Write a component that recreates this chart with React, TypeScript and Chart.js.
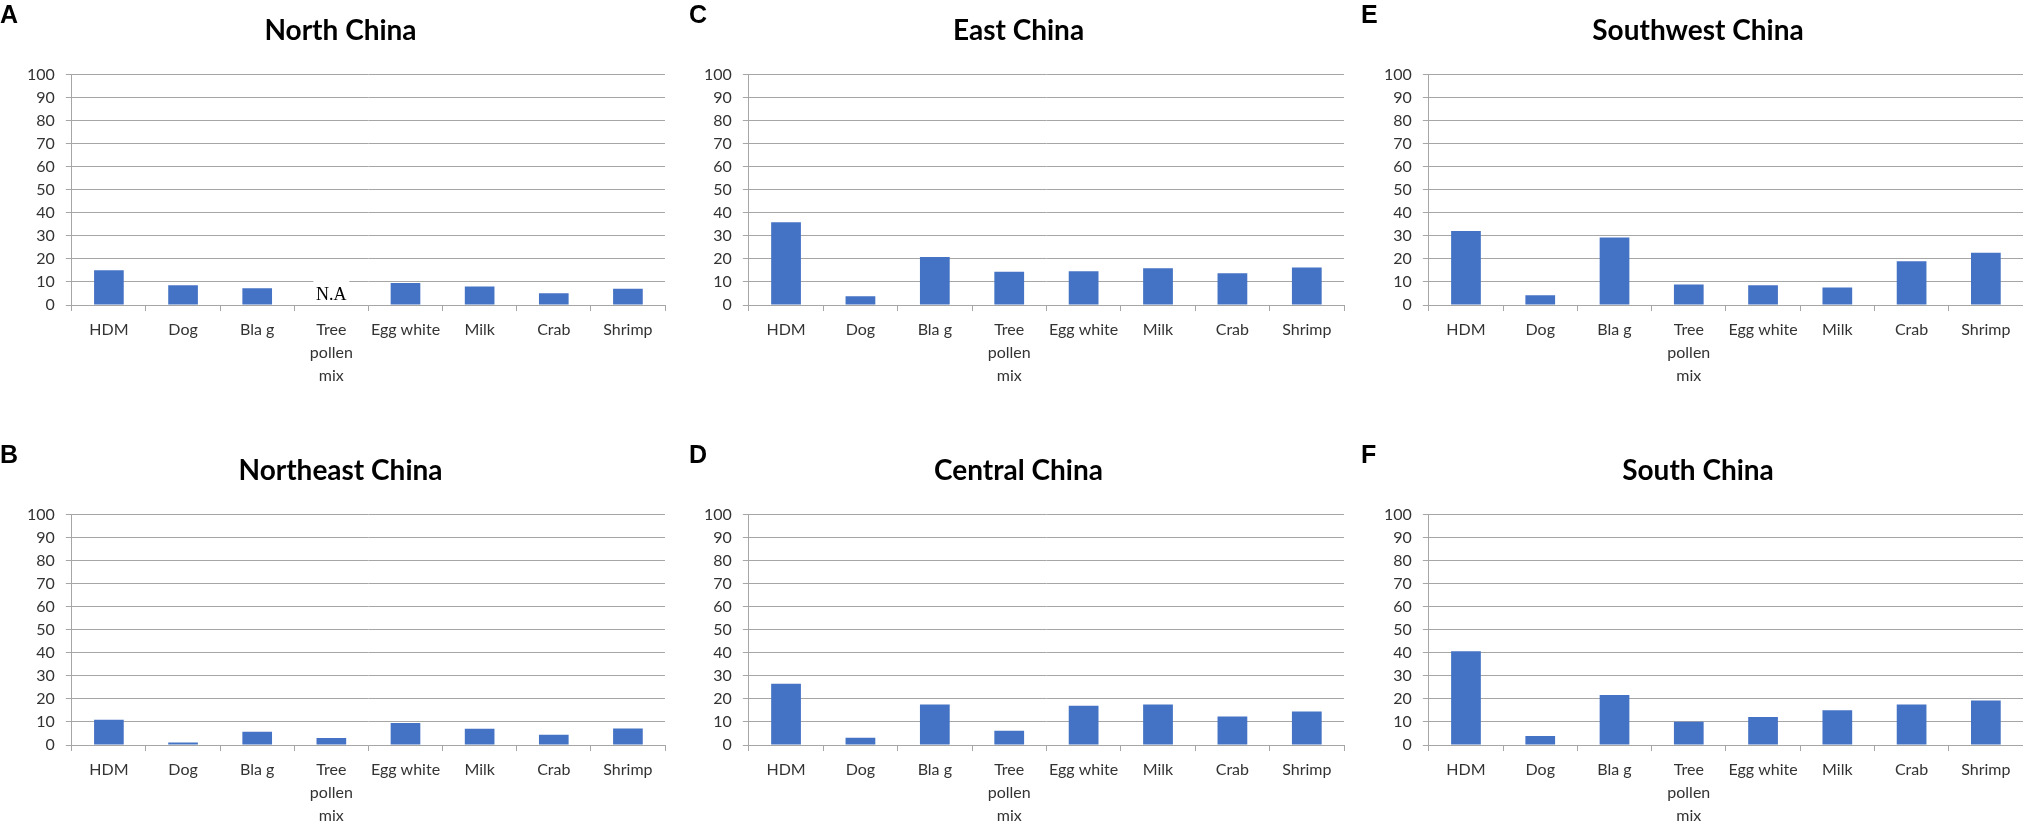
import { useEffect, useRef } from 'react'
import Chart, { type ChartConfiguration, type Plugin } from 'chart.js/auto'

// 알레르겐 카테고리 (x축)
const CATEGORIES: (string | string[])[] = ['HDM', 'Dog', 'Bla g', ['Tree', 'pollen', 'mix'], 'Egg white', 'Milk', 'Crab', 'Shrimp']

// 지역별 양성률(%) — 그림에서 읽은 값, null = N.A
const NORTH_CHINA = [15.1, 8.6, 7.3, null, 9.6, 8.0, 5.1, 7.0]
const NORTHEAST_CHINA = [11.0, 1.1, 5.8, 3.0, 9.6, 7.0, 4.5, 7.2]
const EAST_CHINA = [35.9, 3.8, 20.8, 14.4, 14.6, 15.9, 13.8, 16.3]
const CENTRAL_CHINA = [26.6, 3.1, 17.6, 6.2, 17.0, 17.6, 12.4, 14.5]
const SOUTHWEST_CHINA = [32.1, 4.2, 29.3, 8.9, 8.6, 7.6, 19.0, 22.7]
const SOUTH_CHINA = [40.7, 3.9, 21.7, 10.1, 12.1, 15.1, 17.6, 19.3]

const Y_MIN = 0
const Y_MAX = 100
const Y_STEP = 10
const NA_TEXT = 'N.A'

const BAR = '#4472C4'
const GRID = '#a6a6a6'
const TICK = '#333333'

const PANEL_H = 396
// 열마다 캔버스 위치·여백 (원본의 축 위치에 맞춤)
const COLS = [
  { left: 0, width: 674, padLeft: 16, padRight: 9, letterX: 0 },
  { left: 674, width: 674, padLeft: 19, padRight: 4, letterX: 689 },
  { left: 1348, width: 675, padLeft: 25, padRight: 0, letterX: 1361 },
]
const ROWS = [0, 440]

const PANELS = [
  { letter: 'A', title: 'North China', data: NORTH_CHINA, col: 0, row: 0 },
  { letter: 'B', title: 'Northeast China', data: NORTHEAST_CHINA, col: 0, row: 1 },
  { letter: 'C', title: 'East China', data: EAST_CHINA, col: 1, row: 0 },
  { letter: 'D', title: 'Central China', data: CENTRAL_CHINA, col: 1, row: 1 },
  { letter: 'E', title: 'Southwest China', data: SOUTHWEST_CHINA, col: 2, row: 0 },
  { letter: 'F', title: 'South China', data: SOUTH_CHINA, col: 2, row: 1 },
]

// 값이 없는 카테고리에 "N.A" 표시 (흰 바탕으로 격자선 가림)
const naPlugin: Plugin = {
  id: 'naLabel',
  afterDatasetsDraw(chart) {
    const { ctx, scales } = chart
    const data = chart.data.datasets[0].data as (number | null)[]
    data.forEach((v, i) => {
      if (v !== null) return
      const x = scales.x.getPixelForValue(i)
      const yTop = scales.y.getPixelForValue(10.4)
      const yBot = scales.y.getPixelForValue(0.6)
      ctx.save()
      ctx.fillStyle = '#ffffff'
      ctx.fillRect(x - 18, yTop, 36, yBot - yTop)
      ctx.fillStyle = '#000000'
      ctx.font = '18px "Liberation Serif", serif'
      ctx.textAlign = 'center'
      ctx.textBaseline = 'middle'
      ctx.fillText(NA_TEXT, x, scales.y.getPixelForValue(4.4))
      ctx.restore()
    })
  },
}

function Panel({ title, data, padLeft, padRight, width }: { title: string; data: (number | null)[]; padLeft: number; padRight: number; width: number }) {
  const canvasRef = useRef<HTMLCanvasElement>(null)

  useEffect(() => {
    const canvas = canvasRef.current
    if (!canvas) return
    const config = {
      type: 'bar',
      data: {
        labels: CATEGORIES,
        datasets: [{ data, backgroundColor: BAR, borderWidth: 0, barPercentage: 0.4, categoryPercentage: 1 }],
      },
      options: {
        animation: false,
        responsive: false,
        maintainAspectRatio: false,
        layout: { padding: { left: padLeft, right: padRight, top: 0, bottom: 2 } },
        plugins: {
          legend: { display: false },
          tooltip: { enabled: false },
          title: {
            display: true,
            text: title,
            color: '#000000',
            font: { family: 'Lato', size: 28, weight: 'bold', lineHeight: 1.2 },
            padding: { top: 14, bottom: 27 },
          },
        },
        scales: {
          x: {
            grid: { drawOnChartArea: false, drawTicks: true, tickLength: 6, color: GRID, offset: true },
            border: { display: true, color: GRID, width: 1 },
            ticks: { color: TICK, font: { family: 'Lato', size: 16, lineHeight: 1.4375 }, padding: 7, maxRotation: 0, autoSkip: false },
          },
          y: {
            min: Y_MIN,
            max: Y_MAX,
            grid: { color: GRID, tickLength: 6, lineWidth: 1 },
            border: { display: true, color: GRID, width: 1 },
            ticks: { stepSize: Y_STEP, color: TICK, font: { family: 'Lato', size: 16 }, padding: 11 },
          },
        },
      },
      plugins: [naPlugin],
    } as unknown as ChartConfiguration

    const chart = new Chart(canvas, config)
    return () => chart.destroy()
  }, [title, data, padLeft, padRight])

  return <canvas ref={canvasRef} width={width} height={PANEL_H} style={{ display: 'block' }} />
}

export default function App() {
  useEffect(() => {
    document.body.style.margin = '0'
    document.body.style.overflow = 'hidden'
  }, [])

  return (
    <div style={{ position: 'relative', width: 2023, height: 829, overflow: 'hidden', background: '#ffffff' }}>
      {PANELS.map((p) => {
        const c = COLS[p.col]
        const top = ROWS[p.row]
        return (
          <div key={p.letter}>
            <div style={{ position: 'absolute', left: c.left, top, width: c.width, height: PANEL_H }}>
              <Panel title={p.title} data={p.data} padLeft={c.padLeft} padRight={c.padRight} width={c.width} />
            </div>
            <div
              style={{
                position: 'absolute',
                left: c.letterX,
                top: top + 2,
                font: 'bold 25px "Liberation Sans", Arial, sans-serif',
                lineHeight: '25px',
                color: '#000000',
              }}
            >
              {p.letter}
            </div>
          </div>
        )
      })}
    </div>
  )
}
